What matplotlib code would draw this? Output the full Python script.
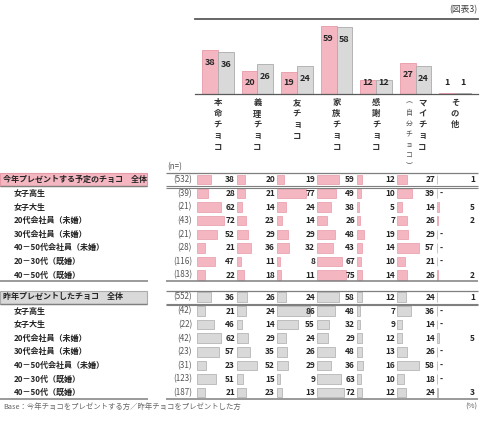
import numpy as np
import matplotlib
matplotlib.use('Agg')
import matplotlib.pyplot as plt
from matplotlib.patches import Rectangle

plt.rcParams['font.family'] = ['Noto Sans CJK JP', 'DejaVu Sans']

# ---- data ----
categories = ['本命チョコ', '義理チョコ', '友チョコ', '家族チョコ', '感謝チョコ', 'マイチョコ', 'その他']
sub_labels = ['', '', '', '', '', '（自分チョコ）', '']
this_year = [38, 20, 19, 59, 12, 27, 1]
last_year = [36, 26, 24, 58, 12, 24, 1]

groups = ['女子高生', '女子大生', '20代会社員（未婚）', '30代会社員（未婚）',
          '40－50代会社員（未婚）', '20－30代（既婚）', '40－50代（既婚）']

this_title = '今年プレゼントする予定のチョコ　全体'
this_n = [532, 39, 21, 43, 21, 28, 116, 183]
this_rows = [
    [38, 20, 19, 59, 12, 27, 1],
    [28, 21, 77, 49, 10, 39, 0],
    [62, 14, 24, 38, 5, 14, 5],
    [72, 23, 14, 26, 7, 26, 2],
    [52, 29, 29, 48, 19, 29, 0],
    [21, 36, 32, 43, 14, 57, 0],
    [47, 11, 8, 67, 10, 21, 0],
    [22, 18, 11, 75, 14, 26, 2],
]

last_title = '昨年プレゼントしたチョコ　全体'
last_n = [552, 42, 22, 42, 23, 31, 123, 187]
last_rows = [
    [36, 26, 24, 58, 12, 24, 1],
    [21, 24, 86, 48, 7, 36, 0],
    [46, 14, 55, 32, 9, 14, 0],
    [62, 29, 24, 29, 12, 14, 5],
    [57, 35, 26, 48, 13, 26, 0],
    [23, 52, 29, 36, 16, 58, 0],
    [51, 15, 9, 63, 10, 18, 0],
    [21, 23, 13, 72, 12, 24, 3],
]

# ---- style ----
PINK, PINK_EDGE = '#f4b6c0', '#e79aa7'
GRAY, GRAY_EDGE = '#d9d9d9', '#ababab'
LINE = '#7f7f7f'
TXT = '#262626'

W, H = 490, 424
fig = plt.figure(figsize=(W / 100, H / 100), dpi=100)

# whole-figure axes in pixel units for the table
tab = fig.add_axes([0, 0, 1, 1])
tab.set_xlim(0, W)
tab.set_ylim(H, 0)
tab.axis('off')

COL0, COLW, PX_PCT = 196, 40, 0.38
TAB_L, TAB_R = 166, 478


def hline(y, x0, x1, lw=0.9, color=LINE):
    tab.plot([x0, x1], [y, y], color=color, lw=lw, solid_capstyle='butt')


def draw_section(y_top, title, n_list, rows, face, edge):
    head_c = y_top + 6.5
    row_y = head_c + 14 + 13.6 * np.arange(len(groups))
    ys = np.concatenate([[head_c], row_y])
    labels = [title] + groups

    # header band on the left
    tab.add_patch(Rectangle((0, y_top), 147, 13, facecolor=face, edgecolor=edge, lw=0.8))
    hline(y_top + 13, 0, 147, lw=1.0)
    hline(y_top, TAB_L, TAB_R, lw=0.9)
    hline(y_top + 13, TAB_L, TAB_R, lw=0.8)
    hline(y_top + 14.6, TAB_L, TAB_R, lw=0.8)
    hline(ys[-1] + 6, 0, 148, lw=1.1)
    hline(ys[-1] + 6, TAB_L, TAB_R, lw=1.1)

    for i, (lab, n, vals, y) in enumerate(zip(labels, n_list, rows, ys)):
        tab.text(3 if i == 0 else 14, y, lab, ha='left', va='center', fontsize=5.8,
                 fontweight='bold', color=TXT)
        tab.text(192, y, '({})'.format(n), ha='right', va='center', fontsize=5.8, color='#555555')
        vals = np.array(vals)
        lefts = COL0 + 1 + COLW * np.arange(len(vals))
        tab.barh(np.full(len(vals), y), vals * PX_PCT, left=lefts, height=9.5,
                 color=face, edgecolor=edge, lw=0.5)
        for c, v in enumerate(vals):
            if v == 0:
                tab.text(COL0 + COLW * c + 4, y, '-', ha='left', va='center',
                         fontsize=6, fontweight='bold', color=TXT)
            else:
                tab.text(COL0 + COLW * (c + 1) - 1, y, str(v), ha='right', va='center',
                         fontsize=6, fontweight='bold', color=TXT)


tab.text(167, 167, '(n=)', ha='left', va='center', fontsize=5.8, color='#555555')
draw_section(173, this_title, this_n, this_rows, PINK, PINK_EDGE)
draw_section(290.5, last_title, last_n, last_rows, GRAY, GRAY_EDGE)

tab.text(477, 10, '(図表3)', ha='right', va='center', fontsize=6.3, color='#404040')
tab.text(3, 407, 'Base：今年チョコをプレゼントする方／昨年チョコをプレゼントした方',
         ha='left', va='center', fontsize=5.3, color='#666666')
tab.text(477, 407, '(%)', ha='right', va='center', fontsize=5.5, color='#666666')

# ---- top bar chart ----
ax = fig.add_axes([195 / W, (H - 94) / H, 283 / W, 75 / H])
x = np.arange(len(categories))
bw = 0.4
ax.bar(x - bw / 2, this_year, bw, color=PINK, edgecolor=PINK_EDGE, lw=0.6)
ax.bar(x + bw / 2, last_year, bw, color=GRAY, edgecolor=GRAY_EDGE, lw=0.6)
ax.set_xlim(-0.58, 6.58)
ax.set_ylim(0, 65)
ax.set_xticks([])
ax.set_yticks([])
ax.patch.set_alpha(0)
for s in ['left', 'right']:
    ax.spines[s].set_visible(False)
ax.spines['top'].set_color('#595959')
ax.spines['top'].set_linewidth(1.3)
ax.spines['bottom'].set_color('#595959')
ax.spines['bottom'].set_linewidth(0.9)

for xs, vals in [(x - bw / 2, this_year), (x + bw / 2, last_year)]:
    for xi, v in zip(xs, vals):
        ax.text(xi, max(v - 10.5, 10), str(v), ha='center', va='center',
                fontsize=6.5, fontweight='bold', color=TXT)

vert = str.maketrans({'（': '︵', '）': '︶'})
for i, (name, sub) in enumerate(zip(categories, sub_labels)):
    dx = 5 if sub else 0
    ax.annotate('\n'.join(name), xy=(i, 0), xycoords=('data', 'axes fraction'),
                xytext=(dx, -3), textcoords='offset points', ha='center', va='top',
                fontsize=6, fontweight='bold', color='#333333', linespacing=1.3,
                annotation_clip=False)
    if sub:
        ax.annotate('\n'.join(sub.translate(vert)), xy=(i, 0), xycoords=('data', 'axes fraction'),
                    xytext=(-4.5, -3), textcoords='offset points', ha='center', va='top',
                    fontsize=5, color='#555555', linespacing=1.45, annotation_clip=False)

fig.savefig('out.png', dpi=100)
